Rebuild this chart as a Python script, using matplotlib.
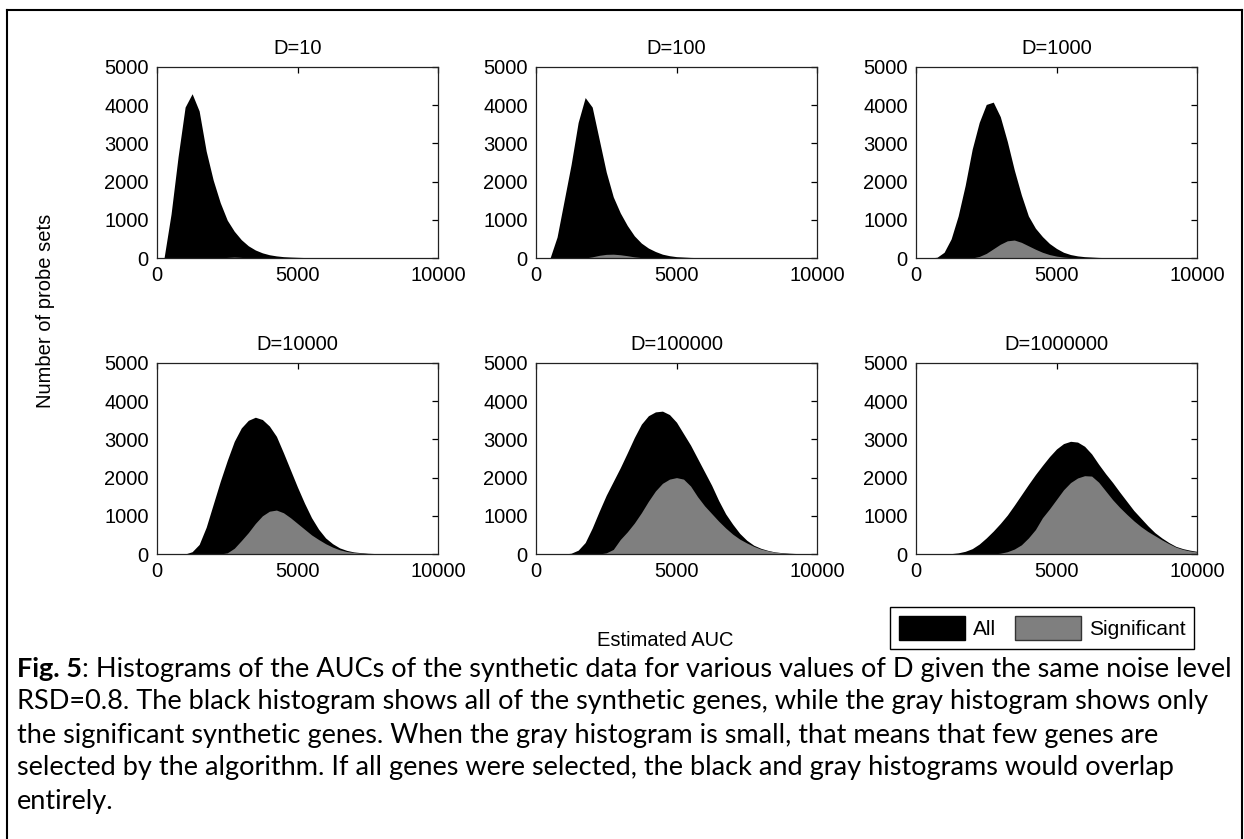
import numpy as np
import matplotlib
matplotlib.use("Agg")
import matplotlib.pyplot as plt
from matplotlib.patches import Patch
from matplotlib.lines import Line2D

plt.rcParams['font.family'] = ['Liberation Sans', 'DejaVu Sans']

# AUC bin centres (every 250) and counts
auc = np.arange(0, 10001, 250)

titles = ['D=10', 'D=100', 'D=1000', 'D=10000', 'D=100000', 'D=1000000']

all_d10 = [0, 0, 1150, 2650, 3950, 4300, 3850, 2800, 2040, 1450, 990, 700, 480, 320, 210,
           135, 85, 55, 35, 25, 18, 12, 9, 6, 0, 0, 0, 0, 0, 0, 0, 0, 0, 0, 0, 0, 0, 0, 0, 0, 0]
sig_d10 = [0, 0, 0, 0, 0, 0, 0, 0, 0, 0, 15, 25, 15, 0, 0, 0, 0, 0, 0, 0, 0, 0, 0, 0, 0,
           0, 0, 0, 0, 0, 0, 0, 0, 0, 0, 0, 0, 0, 0, 0, 0]

all_d100 = [0, 0, 0, 550, 1500, 2450, 3550, 4200, 3950, 3100, 2250, 1600, 1180, 850, 580,
            390, 260, 170, 100, 60, 35, 25, 15, 10, 8, 5, 0, 0, 0, 0, 0, 0, 0, 0, 0, 0, 0, 0, 0, 0, 0]
sig_d100 = [0, 0, 0, 0, 0, 0, 0, 0, 30, 70, 95, 100, 85, 60, 30, 10, 0, 0, 0, 0, 0, 0, 0, 0, 0,
            0, 0, 0, 0, 0, 0, 0, 0, 0, 0, 0, 0, 0, 0, 0, 0]

all_d1000 = [0, 0, 0, 20, 150, 500, 1100, 1900, 2850, 3550, 4020, 4080, 3700, 3050, 2300,
             1650, 1100, 780, 560, 380, 250, 150, 90, 55, 35, 25, 15, 10, 8, 5, 3, 2, 0, 0, 0, 0, 0, 0, 0, 0, 0]
sig_d1000 = [0, 0, 0, 0, 0, 0, 0, 0, 0, 40, 120, 240, 360, 450, 470, 410, 320, 230, 150, 90, 50,
             25, 10, 0, 0, 0, 0, 0, 0, 0, 0, 0, 0, 0, 0, 0, 0, 0, 0, 0, 0]

all_d1e4 = [0, 0, 0, 0, 0, 60, 250, 700, 1300, 1900, 2450, 2950, 3300, 3500, 3580, 3520, 3350,
            3080, 2650, 2200, 1750, 1330, 950, 650, 420, 270, 160, 95, 55, 35, 20, 12, 8, 6, 4, 3, 2, 1, 0, 0, 0]
sig_d1e4 = [0, 0, 0, 0, 0, 0, 0, 0, 0, 0, 30, 150, 350, 560, 800, 1000, 1120, 1150, 1080, 950,
            800, 650, 500, 380, 270, 180, 110, 65, 40, 25, 12, 5, 0, 0, 0, 0, 0, 0, 0, 0, 0]

all_d1e5 = [0, 0, 0, 0, 0, 20, 100, 300, 680, 1120, 1540, 1900, 2260, 2650, 3050, 3400, 3620,
            3720, 3740, 3650, 3450, 3150, 2850, 2500, 2150, 1800, 1400, 1050, 780, 540, 360, 230,
            150, 95, 55, 35, 20, 13, 8, 5, 3]
sig_d1e5 = [0, 0, 0, 0, 0, 0, 0, 0, 0, 0, 30, 120, 380, 580, 810, 1080, 1380, 1650, 1850, 1960,
            2000, 1960, 1780, 1500, 1260, 1060, 860, 680, 520, 390, 290, 200, 130, 85, 50, 30, 18,
            11, 7, 4, 2]

all_d1e6 = [0, 0, 0, 0, 0, 10, 30, 70, 140, 260, 420, 600, 800, 1020, 1280, 1550, 1820, 2080,
            2320, 2550, 2750, 2890, 2950, 2930, 2820, 2620, 2350, 2100, 1870, 1620, 1380, 1140,
            940, 740, 560, 420, 300, 200, 140, 100, 70]
sig_d1e6 = [0, 0, 0, 0, 0, 0, 0, 0, 0, 0, 0, 0, 20, 60, 130, 240, 420, 640, 950, 1180, 1430,
            1680, 1870, 1990, 2050, 2040, 1880, 1650, 1420, 1220, 1040, 870, 720, 590, 480, 370,
            270, 180, 120, 80, 55]

all_counts = [all_d10, all_d100, all_d1000, all_d1e4, all_d1e5, all_d1e6]
sig_counts = [sig_d10, sig_d100, sig_d1000, sig_d1e4, sig_d1e5, sig_d1e6]

caption = [
    ": Histograms of the AUCs of the synthetic data for various values of D given the same noise level",
    "RSD=0.8. The black histogram shows all of the synthetic genes, while the gray histogram shows only",
    "the significant synthetic genes. When the gray histogram is small, that means that few genes are",
    "selected by the algorithm. If all genes were selected, the black and gray histograms would overlap",
    "entirely.",
]

W, H = 1244, 839
fig = plt.figure(figsize=(W / 100, H / 100), dpi=100)
gray = '#7f7f7f'
fs = 14.5

lefts = [157, 536, 916]
tops = [67, 363]
aw, ah = 281, 191

for i in range(6):
    r, c = divmod(i, 3)
    ax = fig.add_axes([lefts[c] / W, 1 - (tops[r] + ah) / H, aw / W, ah / H])
    ax.fill_between(auc, all_counts[i], color='black', lw=0)
    ax.fill_between(auc, sig_counts[i], color=gray, lw=0)
    ax.set_xlim(0, 10000)
    ax.set_ylim(0, 5000)
    ax.set_xticks([0, 5000, 10000])
    ax.set_yticks([0, 1000, 2000, 3000, 4000, 5000])
    ax.tick_params(direction='in', top=True, right=True, length=0, labelsize=fs, pad=6)
    # only the top/right ticks show in the original
    for t in ax.xaxis.get_major_ticks() + ax.yaxis.get_major_ticks():
        t.tick2line.set_markersize(4)
        t.tick2line.set_markeredgewidth(0.9)
    for s in ax.spines.values():
        s.set_linewidth(0.9)
        s.set_color('#222222')
    ax.set_title(titles[i], fontsize=fs, pad=9)

fig.text(46 / W, 1 - 311 / H, 'Number of probe sets', rotation=90,
         ha='center', va='center', fontsize=fs)
fig.text(665 / W, 1 - 640 / H, 'Estimated AUC', ha='center', va='center', fontsize=fs)

handles = [Patch(facecolor='black', edgecolor='black', label='All'),
           Patch(facecolor=gray, edgecolor='#333333', label='Significant')]
leg = fig.legend(handles=handles, loc='upper right', bbox_to_anchor=(1194 / W, 1 - 607 / H),
                 ncol=2, fontsize=15, frameon=True, fancybox=False, framealpha=1,
                 edgecolor='black', handlelength=3.2, handleheight=1.45, handletextpad=0.35,
                 columnspacing=0.9, borderpad=0.42, borderaxespad=0)
leg.get_frame().set_linewidth(1.0)

# caption under the figure
cap_font = ['Lato', 'DejaVu Sans']
cap_fs = 19.5
cap_y = [669, 702, 735, 768, 801]
x0 = 17 / W
bold = fig.text(x0, 1 - cap_y[0] / H, 'Fig. 5', fontsize=cap_fs, fontweight='bold',
                family=cap_font, va='center')
fig.canvas.draw()
bb = bold.get_window_extent()
fig.text(bb.x1 / W, 1 - cap_y[0] / H, caption[0], fontsize=cap_fs, family=cap_font, va='center')
for k in range(1, 5):
    fig.text(x0, 1 - cap_y[k] / H, caption[k], fontsize=cap_fs, family=cap_font, va='center')

# outer frame
for xs, ys in [([7, 7], [10, H]), ([7, 1242], [10, 10]), ([1242, 1242], [10, H])]:
    fig.add_artist(Line2D([x / W for x in xs], [1 - y / H for y in ys], color='black', lw=1.5))

fig.savefig('out.png', dpi=100)
